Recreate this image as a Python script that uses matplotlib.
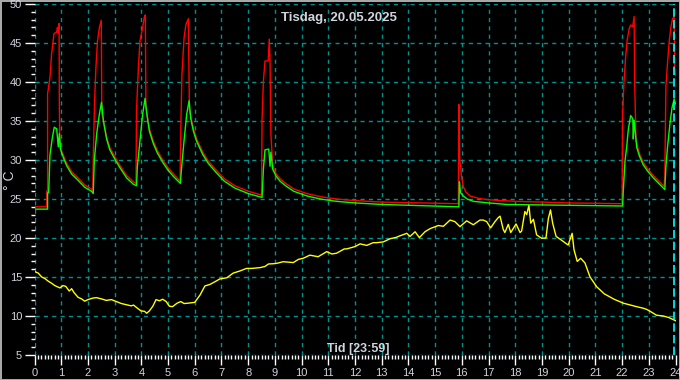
import matplotlib
matplotlib.use("Agg")
import matplotlib.pyplot as plt
from matplotlib.ticker import MultipleLocator

# ---------- Data ------------ #
red_h = [0, 0.46, 0.46, 0.49, 0.49, 0.58, 0.64, 0.73, 0.83, 0.86, 0.88, 0.92, 0.93, 0.95,
         1.08, 1.2, 1.39, 1.63, 1.88, 2.13, 2.18, 2.2, 2.25, 2.3, 2.36, 2.43, 2.5, 2.52, 2.58,
         2.7, 2.82, 3.01, 3.2, 3.45, 3.7, 3.8, 3.82, 3.89, 3.95, 4.05, 4.11, 4.15, 4.17, 4.2,
         4.3, 4.45, 4.6, 4.82, 5.0, 5.2, 5.45, 5.48, 5.52, 5.6, 5.67, 5.76, 5.8, 5.85, 5.95,
         6.07, 6.3, 6.5, 6.8, 7.1, 7.5, 8.0, 8.5, 8.52, 8.57, 8.63, 8.75, 8.79, 8.82, 8.85,
         8.92, 9.05, 9.19, 9.4, 9.7, 10.19, 10.7, 11.3, 12.0, 13.0, 15.87, 15.89, 15.92,
         15.96, 15.98, 16.05, 16.15, 16.3, 16.6, 17.0, 18.0, 20.0, 22.0, 22.02, 22.07, 22.13,
         22.19, 22.27, 22.32, 22.4, 22.45, 22.47, 22.52, 22.65, 22.79, 22.95, 23.17, 23.4,
         23.57, 23.6, 23.64, 23.7, 23.77, 23.83, 23.89, 23.95, 23.97, 24.0]
red_v = [24.0, 24.0, 26.0, 26.0, 38.5, 40.6, 43.6, 46.2, 46.4, 47.0, 46.3, 47.5, 36.9, 31.7,
         30.6, 29.6, 28.5, 27.7, 26.8, 26.3, 26.1, 30.4, 37.6, 41.9, 45.3, 47.0, 47.9, 35.9, 35.1,
         32.9, 31.6, 30.4, 29.3, 28.0, 27.2, 27.0, 36.4, 41.9, 45.3, 47.0, 48.3, 48.6, 36.9, 36.2,
         34.0, 32.4, 31.2, 29.9, 29.0, 28.2, 27.3, 34.3, 41.0, 45.7, 47.4, 48.1, 36.4, 35.6, 34.0,
         32.7, 31.0, 29.9, 28.7, 27.6, 26.7, 26.0, 25.5, 35.1, 40.1, 42.7, 42.7, 45.5, 42.3, 33.4,
         29.2, 28.2, 27.6, 27.0, 26.3, 25.7, 25.3, 25.0, 24.8, 24.6, 24.4, 37.1, 30.0,
         29.1, 28.1, 26.6, 25.9, 25.4, 25.1, 24.9, 24.7, 24.5, 24.4, 35.9, 39.9, 43.1,
         45.4, 46.9, 47.3, 47.1, 48.4, 40.2, 32.5, 30.8, 29.7, 28.9, 28.0, 27.2,
         26.6, 27.8, 39.4, 42.4, 45.4, 47.1, 48.1, 48.4, 41.6, 40.9]

green_h = [0, 0.49, 0.49, 0.53, 0.58, 0.67, 0.74, 0.83, 0.89, 0.93, 0.98, 1.08, 1.2, 1.39,
           1.63, 1.88, 2.13, 2.2, 2.24, 2.33, 2.43, 2.51, 2.58, 2.7, 2.82, 3.01, 3.2, 3.45,
           3.7, 3.82, 3.85, 3.95, 4.05, 4.14, 4.2, 4.3, 4.45, 4.6, 4.82, 5.0, 5.2, 5.46, 5.51,
           5.6, 5.7, 5.79, 5.85, 5.95, 6.07, 6.3, 6.5, 6.8, 7.1, 7.5, 8.0, 8.52, 8.57, 8.63,
           8.77, 8.82, 8.85, 8.92, 9.05, 9.19, 9.4, 9.7, 10.19, 10.7, 11.3, 12.0, 13.0, 15.89,
           15.91, 15.95, 16.05, 16.2, 16.43, 17.0, 17.68, 22.02, 22.04, 22.11, 22.17, 22.23,
           22.32, 22.4, 22.42, 22.45, 22.55, 22.65, 22.79, 22.95, 23.17, 23.4, 23.6, 23.64,
           23.7, 23.79, 23.87, 23.95, 24.0]
green_v = [23.7, 23.7, 25.8, 25.8, 30.7, 32.9, 34.2, 34.0, 31.7, 33.4, 31.3, 30.3, 29.3, 28.2,
           27.4, 26.5, 26.0, 25.7, 30.0, 33.4, 35.9, 37.4, 35.0, 32.7, 31.3, 30.1, 29.0, 27.7,
           26.9, 26.7, 29.1, 32.5, 35.9, 37.9, 36.0, 33.7, 32.1, 30.9, 29.6, 28.7, 27.9, 27.0, 29.1,
           32.5, 35.9, 37.6, 35.3, 33.7, 32.4, 30.7, 29.6, 28.4, 27.3, 26.4, 25.7, 25.2, 28.8, 31.3,
           31.4, 29.2, 31.0, 28.8, 27.9, 27.3, 26.7, 26.0, 25.4, 25.0, 24.7, 24.5, 24.3, 24.0,
           27.2, 25.8, 25.4, 25.0, 24.7, 24.5, 24.3, 24.1, 25.7, 29.9, 31.6, 33.8,
           35.7, 35.3, 32.7, 35.1, 31.6, 30.5, 29.4, 28.6, 27.7, 26.9, 26.2, 29.1,
           31.6, 34.6, 36.7, 37.8, 37.2]

yellow_h = [0.0, 0.14, 0.27, 0.39, 0.52, 0.64, 0.76, 0.95, 1.07, 1.17, 1.30, 1.39, 1.48, 1.63,
            1.76, 1.88, 2.0, 2.19, 2.32, 2.5, 2.69, 2.88, 3.06, 3.25, 3.43, 3.62, 3.71, 3.87,
            3.99, 4.12, 4.2, 4.3, 4.43, 4.55, 4.68, 4.8, 4.93, 5.05, 5.17, 5.34, 5.48, 5.6,
            5.77, 6.0, 6.2, 6.38, 6.57, 6.76, 6.94, 7.2, 7.44, 7.67, 7.94, 8.13, 8.44, 8.63,
            8.76, 8.94, 9.07, 9.31, 9.69, 9.88, 10.06, 10.31, 10.62, 10.94, 11.13, 11.31,
            11.44, 11.6, 11.69, 12.0, 12.19, 12.44, 12.68, 12.81, 13.06, 13.31, 13.56, 13.62,
            13.94, 14.06, 14.25, 14.41, 14.62, 14.81, 15.12, 15.31, 15.56, 15.74, 15.93,
            16.18, 16.43, 16.68, 16.8, 16.93, 17.08, 17.24, 17.36, 17.43, 17.55, 17.61,
            17.74, 17.83, 18.03, 18.18, 18.24, 18.36, 18.43, 18.51, 18.58, 18.68, 18.8,
            18.99, 19.15, 19.24, 19.32, 19.4, 19.53, 19.74, 19.98, 20.13, 20.2, 20.32, 20.45,
            20.61, 20.8, 21.05, 21.33, 21.7, 22.04, 22.42, 22.54, 22.79, 22.92, 23.1, 23.29,
            23.54, 23.75, 24.0]
yellow_v = [15.7, 15.5, 15.0, 14.8, 14.45, 14.2, 13.9, 13.6, 13.9, 13.8, 13.2, 13.5, 13.0, 12.4,
            12.2, 11.9, 12.1, 12.3, 12.35, 12.2, 12.0, 12.1, 11.85, 11.6, 11.45, 11.3, 11.4, 10.95,
            10.65, 10.6, 10.35, 10.65, 11.25, 12.1, 11.95, 12.15, 11.85, 11.25, 11.2, 11.65, 11.85, 11.6,
            11.65, 11.75, 12.7, 13.85, 14.05, 14.4, 14.75, 14.9, 15.5, 15.75, 16.1, 16.1, 16.2, 16.35,
            16.67, 16.7, 16.75, 16.96, 16.85, 17.26, 17.4, 17.8, 17.6, 18.25, 17.95, 18.05,
            18.3, 18.6, 18.6, 18.9, 19.25, 19.05, 19.4, 19.4, 19.5, 19.9, 20.1, 20.2,
            20.6, 20.2, 20.8, 20.05, 20.8, 21.2, 21.6, 21.5, 22.3, 22.1, 21.45,
            22.2, 21.7, 22.3, 22.3, 22.1, 21.3, 22.1, 22.6, 22.8, 21.1, 20.7,
            21.75, 20.7, 21.8, 20.7, 20.9, 23.4, 23.0, 24.2, 21.9, 22.4, 20.4,
            19.96, 20.0, 22.5, 23.6, 21.9, 20.2, 19.7, 19.1, 20.6, 18.5, 17.0, 17.4,
            16.8, 15.0, 13.75, 12.85, 12.15, 11.65, 11.3, 11.2, 11.0, 10.85, 10.5, 10.1,
            10.0, 9.8, 9.4]

title = "Tisdag, 20.05.2025"
xlabel = "Tid [23:59]"
ylabel = "° C"

# ---------- Grafico ------------ #
txt = '#d0d4dc'
fig = plt.figure(figsize=(6.8, 3.8), dpi=100, facecolor='black')
fig.patch.set_edgecolor('#a8a8a8')
fig.patch.set_linewidth(2)
ax = fig.add_axes([34.5 / 680, 25 / 380, 641 / 680, 351 / 380], facecolor='black')

ax.plot(yellow_h, yellow_v, color='#ffff00', linewidth=1.0)
ax.plot(red_h, red_v, color='#ff0000', linewidth=1.0)
ax.plot(green_h, green_v, color='#00ff00', linewidth=1.0)
ax.axvline(23.96, color='#00ffff', linewidth=1.2, linestyle=(0, (5, 2)), zorder=3)

ax.set_xlim(0, 24)
ax.set_ylim(5, 50)
ax.xaxis.set_major_locator(MultipleLocator(1))
ax.xaxis.set_minor_locator(MultipleLocator(1 / 8))
ax.yaxis.set_major_locator(MultipleLocator(5))
ax.yaxis.set_minor_locator(MultipleLocator(1))
for s in ax.spines.values():
    s.set_visible(False)
ax.tick_params(which='major', length=7, width=1, color='white', labelcolor=txt,
               labelsize=8, pad=2)
ax.tick_params(which='minor', length=3, width=1, color='white')
for lab in ax.get_xticklabels() + ax.get_yticklabels():
    lab.set_family('Liberation Sans')

ax.grid(True, which='major', color='#009090', linewidth=1, linestyle=(0, (3, 3)))

ax.text(0.475, 0.96, title, transform=ax.transAxes, ha='center', va='center',
        color=txt, fontsize=9.5, fontweight='bold', family='Liberation Sans')
ax.text(0.505, 0.016, xlabel, transform=ax.transAxes, ha='center', va='center',
        color=txt, fontsize=9, fontweight='bold', family='Liberation Sans')
fig.text(10 / 680, 1 - 180 / 380, ylabel, rotation=90, ha='center', va='center',
         color=txt, fontsize=10, family='Liberation Sans')

fig.savefig("out.png", dpi=100, facecolor=fig.get_facecolor(), edgecolor=fig.get_edgecolor())
